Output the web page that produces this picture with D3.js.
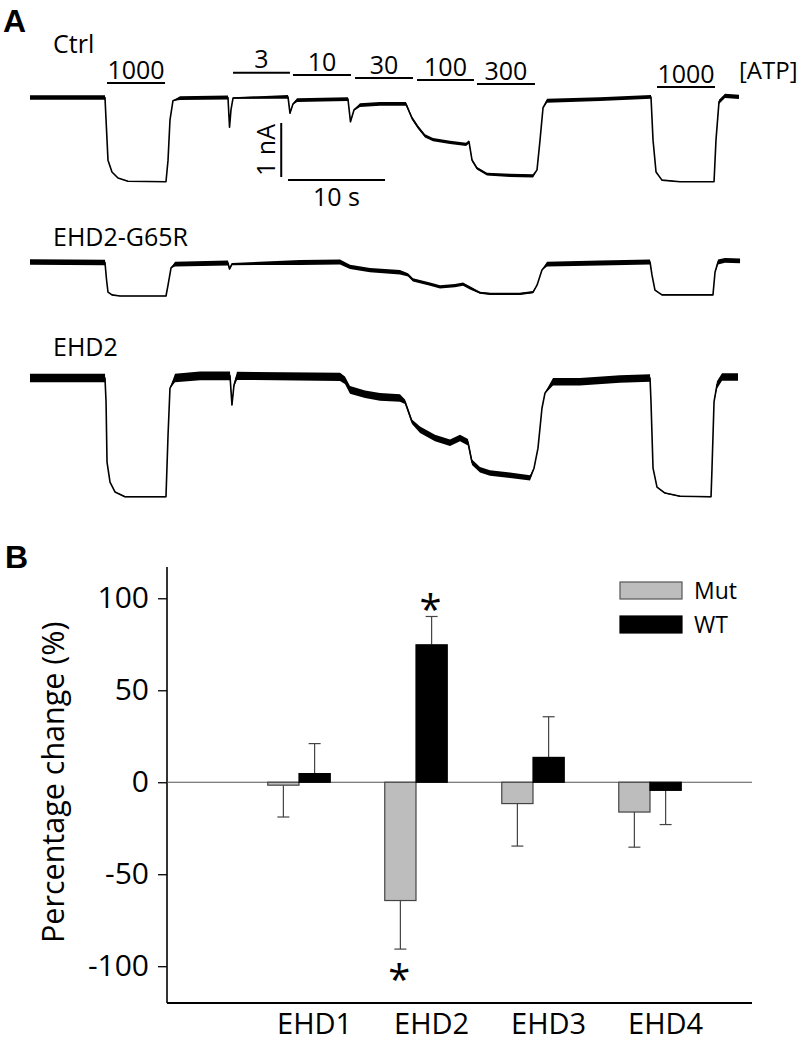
<!DOCTYPE html>
<html>
<head>
<meta charset="utf-8">
<script src="https://cdn.jsdelivr.net/npm/d3@7/dist/d3.min.js"></script>
<style>
  html, body { margin: 0; padding: 0; background: #fff; }
  svg { display: block; }
  text { font-family: "Open Sans", "DejaVu Sans", sans-serif; fill: #000; }
  .panel { font-family: "Liberation Sans", Arial, sans-serif; font-weight: bold; }
</style>
</head>
<body>
<svg id="fig" width="800" height="1043"></svg>
<script>
// ---------------- Panel A data: current traces (time in s, current in nA, noise half-width in nA)
const ctrlT = [0, 7.73, 7.89, 8.04, 8.45, 9.07, 10.10, 14.02, 14.23, 14.43, 14.74, 15.46, 20.41, 20.57, 20.72, 20.93, 26.60, 26.80, 27.11, 27.53, 32.78, 33.04, 33.40, 34.02, 36.08, 38.76, 39.38, 40.00, 40.72, 41.55, 43.30, 44.95, 45.26, 45.57, 46.08, 47.11, 49.48, 51.86, 52.27, 52.58, 52.89, 53.30, 58.76, 64.02, 64.23, 64.54, 65.15, 67.01, 70.52, 70.72, 71.03, 71.65, 73.09];
const ctrlI = [0, 0, -0.60, -1.16, -1.38, -1.49, -1.55, -1.56, -1.16, -0.42, -0.06, -0.01, 0, -0.55, -0.23, -0.01, 0.01, -0.29, -0.12, -0.05, -0.03, -0.45, -0.23, -0.14, -0.12, -0.12, -0.38, -0.55, -0.71, -0.78, -0.83, -0.87, -0.82, -1.16, -1.31, -1.42, -1.44, -1.45, -1.34, -0.79, -0.19, -0.06, -0.03, 0.01, -0.79, -1.38, -1.53, -1.56, -1.56, -0.79, -0.08, 0.03, 0.01];
const ctrlN = [0.04, 0.04, 0.005, 0.005, 0.005, 0.005, 0.005, 0.005, 0.005, 0.005, 0.005, 0.035, 0.035, 0.014, 0.014, 0.014, 0.035, 0.014, 0.014, 0.035, 0.035, 0.014, 0.014, 0.035, 0.035, 0.035, 0.03, 0.03, 0.03, 0.03, 0.03, 0.03, 0.03, 0.025, 0.025, 0.025, 0.03, 0.03, 0.005, 0.005, 0.005, 0.035, 0.035, 0.035, 0.005, 0.005, 0.005, 0.005, 0.005, 0.005, 0.04, 0.04, 0.04];

const mutT = [0, 7.73, 7.89, 8.04, 8.45, 9.28, 14.02, 14.23, 14.54, 14.95, 20.41, 20.57, 20.82, 27.84, 31.96, 32.99, 35.05, 38.14, 38.97, 39.48, 41.24, 42.27, 43.81, 44.64, 45.36, 46.39, 47.42, 50.52, 51.86, 52.27, 52.78, 53.30, 58.76, 63.92, 64.12, 64.43, 65.15, 70.41, 70.62, 70.93, 71.65, 73.20];
const mutI = [0.01, 0, -0.32, -0.55, -0.60, -0.62, -0.62, -0.42, -0.10, -0.03, -0.01, -0.12, -0.03, 0, 0.01, -0.08, -0.14, -0.18, -0.23, -0.32, -0.40, -0.45, -0.43, -0.40, -0.47, -0.56, -0.58, -0.58, -0.55, -0.42, -0.14, -0.03, -0.01, 0.01, -0.23, -0.51, -0.60, -0.60, -0.18, 0.01, 0.04, 0.03];
const mutN = [0.05, 0.05, 0.005, 0.005, 0.005, 0.005, 0.005, 0.005, 0.005, 0.045, 0.045, 0.02, 0.02, 0.045, 0.045, 0.04, 0.04, 0.04, 0.03, 0.03, 0.03, 0.03, 0.03, 0.03, 0.03, 0.02, 0.02, 0.02, 0.02, 0.005, 0.005, 0.045, 0.045, 0.045, 0.005, 0.005, 0.005, 0.005, 0.005, 0.045, 0.045, 0.045];

const wtT = [0, 7.73, 7.84, 7.94, 8.25, 8.76, 9.79, 14.02, 14.23, 14.43, 14.95, 17.53, 20.62, 20.82, 21.03, 21.34, 31.96, 32.47, 32.99, 34.54, 36.08, 38.14, 38.66, 39.38, 40.21, 41.75, 43.30, 44.33, 45.15, 45.57, 46.39, 47.42, 49.48, 51.55, 51.96, 52.37, 52.78, 53.09, 53.92, 56.70, 60.82, 63.92, 64.02, 64.23, 64.64, 65.46, 67.01, 70.21, 70.31, 70.52, 70.82, 71.34, 72.99];
const wtI = [0, 0, -0.44, -1.56, -1.93, -2.11, -2.20, -2.20, -1.06, -0.19, 0, 0.04, 0.04, -0.50, -0.13, 0.04, 0.02, -0.04, -0.22, -0.30, -0.35, -0.37, -0.44, -0.81, -0.96, -1.11, -1.20, -1.11, -1.19, -1.56, -1.70, -1.76, -1.80, -1.85, -1.67, -1.30, -0.56, -0.28, -0.07, -0.07, -0.02, 0, -0.44, -1.67, -2.02, -2.13, -2.19, -2.20, -1.67, -0.44, -0.13, 0.02, 0.02];
const wtN = [0.08, 0.08, 0.008, 0.008, 0.008, 0.008, 0.008, 0.008, 0.01, 0.01, 0.08, 0.08, 0.08, 0.03, 0.03, 0.075, 0.075, 0.07, 0.07, 0.07, 0.07, 0.07, 0.04, 0.04, 0.06, 0.06, 0.06, 0.06, 0.06, 0.05, 0.05, 0.05, 0.05, 0.05, 0.01, 0.01, 0.01, 0.01, 0.07, 0.07, 0.07, 0.07, 0.008, 0.008, 0.008, 0.008, 0.008, 0.008, 0.01, 0.01, 0.07, 0.07, 0.07];

const traceLabels = ["Ctrl", "EHD2-G65R", "EHD2"];

// ATP applications (µM) and their timing (s)
const stimLabels = ["1000", "3", "10", "30", "100", "300", "1000"];
const stimStart  = [7.94, 20.93, 27.11, 33.51, 39.90, 46.08, 64.64];
const stimEnd    = [13.92, 26.80, 33.09, 39.48, 45.77, 52.06, 70.62];

// scale bars
const scaleBarTime = 10;     // s
const scaleBarCurrent = 1;   // nA

// ---------------- Panel B data
const categories = ["EHD1", "EHD2", "EHD3", "EHD4"];
const seriesNames = ["Mut", "WT"];
const mutMean = [-1.6, -64.3, -11.6, -16.2];
const mutErr  = [17.3, 26.4, 23.1, 19.1];
const wtMean  = [4.7, 74.7, 13.5, -4.4];
const wtErr   = [16.3, 15.4, 22.1, 18.6];
const mutSig  = [false, true, false, false];
const wtSig   = [false, true, false, false];
const yTicks  = [-100, -50, 0, 50, 100];

// =====================================================================
const svg = d3.select("#fig");

// ---------- Panel A
svg.append("text").attr("class", "panel").attr("x", 3).attr("y", 32)
  .attr("font-size", 32).text("A");

const xA = d3.scaleLinear().domain([0, 73.2]).range([30, 30 + 73.2 * 9.7]);
const pxPerNA = 54;
const traceBaseY = [97.5, 262.5, 378];
const traceLabelPos = [[53, 53], [53, 246], [53, 356]];
const traceData = [
  {t: ctrlT, i: ctrlI, n: ctrlN},
  {t: mutT, i: mutI, n: mutN},
  {t: wtT, i: wtI, n: wtN}
];

traceData.forEach((tr, k) => {
  const yS = d3.scaleLinear().domain([0, -1]).range([traceBaseY[k], traceBaseY[k] + pxPerNA]);
  const pts = tr.t.map((t, j) => ({t, i: tr.i[j], n: tr.n[j]}));
  const area = d3.area()
    .x(d => xA(d.t))
    .y0(d => yS(d.i - d.n))
    .y1(d => yS(d.i + d.n));
  const line = d3.line()
    .x(d => xA(d.t))
    .y(d => yS(d.i));
  svg.append("path").attr("d", area(pts)).attr("fill", "#000");
  svg.append("path").attr("d", line(pts)).attr("fill", "none")
    .attr("stroke", "#000").attr("stroke-width", 1.6).attr("stroke-linejoin", "round");
  svg.append("text").attr("x", traceLabelPos[k][0]).attr("y", traceLabelPos[k][1])
    .attr("font-size", 25).text(traceLabels[k]);
});

// ATP application bars
const stimLineY = [83, 72.7, 75, 78, 80, 84, 87];
stimLabels.forEach((lab, k) => {
  const x0 = xA(stimStart[k]), x1 = xA(stimEnd[k]);
  svg.append("line").attr("x1", x0).attr("x2", x1)
    .attr("y1", stimLineY[k]).attr("y2", stimLineY[k])
    .attr("stroke", "#000").attr("stroke-width", 2);
  svg.append("text").attr("x", (x0 + x1) / 2).attr("y", stimLineY[k] - 4.5)
    .attr("text-anchor", "middle").attr("font-size", 25).text(lab);
});
svg.append("text").attr("x", 739).attr("y", 79).attr("font-size", 24).text("[ATP]");

// scale bars
const sbT0 = 26.6, sbY = 180;
svg.append("line").attr("x1", xA(sbT0)).attr("x2", xA(sbT0 + scaleBarTime))
  .attr("y1", sbY).attr("y2", sbY).attr("stroke", "#000").attr("stroke-width", 2);
svg.append("text").attr("x", (xA(sbT0) + xA(sbT0 + scaleBarTime)) / 2).attr("y", 206)
  .attr("text-anchor", "middle").attr("font-size", 25).text(scaleBarTime + " s");
const sbVx = xA(25.9), sbVy1 = 177;
svg.append("line").attr("x1", sbVx).attr("x2", sbVx)
  .attr("y1", sbVy1).attr("y2", sbVy1 - scaleBarCurrent * pxPerNA)
  .attr("stroke", "#000").attr("stroke-width", 2);
svg.append("text").attr("transform", `translate(${sbVx - 6},${sbVy1 - 27}) rotate(-90)`)
  .attr("text-anchor", "middle").attr("font-size", 25).text(scaleBarCurrent + " nA");

// ---------- Panel B
svg.append("text").attr("class", "panel").attr("x", 5).attr("y", 568)
  .attr("font-size", 32).text("B");

const axisX = 167, axisRight = 752;
const y = d3.scaleLinear().domain([-120, 117]).range([1003, 567]);
const x0 = d3.scaleBand().domain(categories).range([240.5, 708.5])
  .paddingInner(0.466).paddingOuter(0.233);
const x1 = d3.scaleBand().domain(seriesNames).range([0, x0.bandwidth()]);

const yAxis = d3.axisLeft(y).tickValues(yTicks).tickSize(9).tickPadding(9)
  .tickFormat(d => String(d));
const gy = svg.append("g").attr("transform", `translate(${axisX},0)`).call(yAxis);
gy.select(".domain").remove();
gy.selectAll(".tick line").attr("stroke", "#000").attr("stroke-width", 1.3);
gy.selectAll(".tick text").attr("font-size", 30).attr("fill", "#000")
  .attr("font-family", '"Open Sans", sans-serif');
svg.append("line").attr("x1", axisX).attr("x2", axisX).attr("y1", y(117)).attr("y2", y(-120))
  .attr("stroke", "#000").attr("stroke-width", 1.6);
svg.append("line").attr("x1", axisX).attr("x2", axisRight).attr("y1", y(-120)).attr("y2", y(-120))
  .attr("stroke", "#000").attr("stroke-width", 2);

svg.append("text")
  .attr("transform", `translate(64,${y(0)}) rotate(-90)`)
  .attr("text-anchor", "middle").attr("font-size", 30.5).text("Percentage change (%)");

const rows = [];
categories.forEach((c, k) => {
  rows.push({cat: c, s: "Mut", v: mutMean[k], e: mutErr[k], sig: mutSig[k]});
  rows.push({cat: c, s: "WT", v: wtMean[k], e: wtErr[k], sig: wtSig[k]});
});

// error bars
const capW = 12;
rows.forEach(r => {
  const cx = x0(r.cat) + x1(r.s) + x1.bandwidth() / 2;
  const dir = r.v >= 0 ? 1 : -1;
  const yEnd = y(r.v + dir * r.e);
  svg.append("line").attr("x1", cx).attr("x2", cx).attr("y1", y(r.v)).attr("y2", yEnd)
    .attr("stroke", "#444").attr("stroke-width", 1.2);
  svg.append("line").attr("x1", cx - capW / 2).attr("x2", cx + capW / 2).attr("y1", yEnd).attr("y2", yEnd)
    .attr("stroke", "#444").attr("stroke-width", 1.2);
  if (r.sig) {
    const fs = 40;
    const cy = dir > 0 ? yEnd - 15 : yEnd + 22;
    svg.append("text").attr("x", cx - 1).attr("y", cy + 0.57 * fs)
      .attr("text-anchor", "middle").attr("font-size", fs).text("*");
  }
});

// zero line
svg.append("line").attr("x1", axisX).attr("x2", axisRight).attr("y1", y(0)).attr("y2", y(0))
  .attr("stroke", "#555").attr("stroke-width", 1.2);

// bars
rows.forEach(r => {
  const bx = x0(r.cat) + x1(r.s);
  const isMut = r.s === "Mut";
  svg.append("rect")
    .attr("x", bx).attr("width", x1.bandwidth())
    .attr("y", y(Math.max(0, r.v))).attr("height", Math.abs(y(r.v) - y(0)))
    .attr("fill", isMut ? "#bdbdbd" : "#000")
    .attr("stroke", isMut ? "#444" : "#000").attr("stroke-width", 1.2);
});

// category labels (centred under WT bars, as in the figure)
categories.forEach(c => {
  svg.append("text").attr("x", x0(c) + x1("WT") + x1.bandwidth() / 2).attr("y", 1034)
    .attr("text-anchor", "middle").attr("font-size", 29).text(c);
});

// legend
const legY = [582, 616];
seriesNames.forEach((s, k) => {
  svg.append("rect").attr("x", 620).attr("y", legY[k]).attr("width", 62).attr("height", 17)
    .attr("fill", s === "Mut" ? "#bdbdbd" : "#000").attr("stroke", s === "Mut" ? "#555" : "#000")
    .attr("stroke-width", 1.2);
  svg.append("text").attr("x", 694).attr("y", legY[k] + 17).attr("font-size", 23).text(s);
});
</script>
</body>
</html>
